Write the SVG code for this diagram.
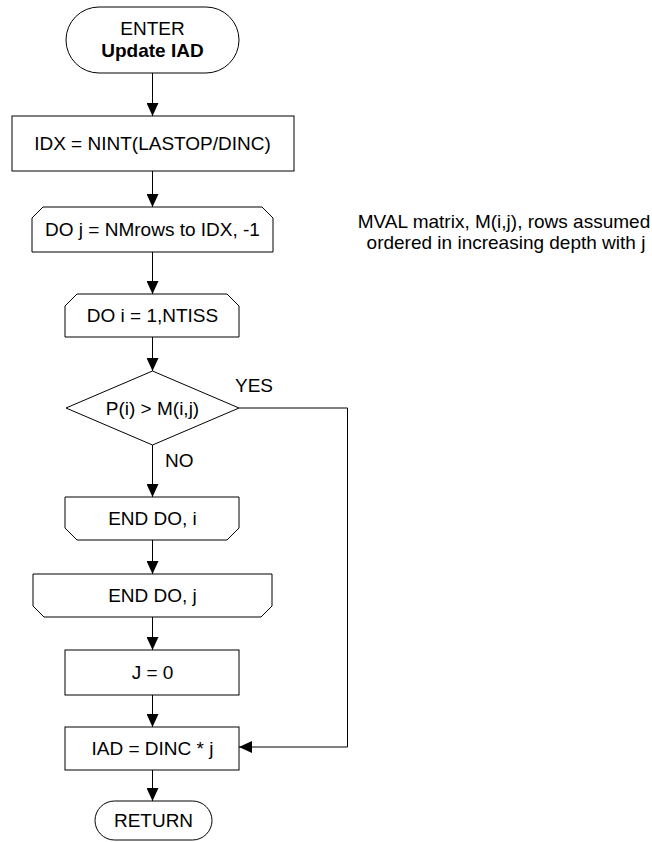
<svg xmlns="http://www.w3.org/2000/svg" width="652" height="842" viewBox="0 0 652 842">
<defs>
<style>
.s{fill:#fff;stroke:#000;stroke-width:1}
.t{font-family:"Liberation Sans",Arial,sans-serif;font-size:19px;fill:#000;text-anchor:middle}
.l{font-family:"Liberation Sans",Arial,sans-serif;font-size:19px;fill:#000}
.c{fill:none;stroke:#000;stroke-width:1}
</style>
<marker id="ah" viewBox="0 0 13 12" refX="13" refY="6" markerWidth="13" markerHeight="12" markerUnits="userSpaceOnUse" orient="auto">
<path d="M0,0 L13,6 L0,12 Z" fill="#000"/>
</marker>
</defs>
<rect width="652" height="842" fill="#fff"/>
<g id="connectors">
<line class="c" x1="152.5" y1="73" x2="152.5" y2="116" marker-end="url(#ah)"/>
<line class="c" x1="152.5" y1="171" x2="152.5" y2="207" marker-end="url(#ah)"/>
<line class="c" x1="152.5" y1="252" x2="152.5" y2="294" marker-end="url(#ah)"/>
<line class="c" x1="152.5" y1="337" x2="152.5" y2="371" marker-end="url(#ah)"/>
<line class="c" x1="152.5" y1="445" x2="152.5" y2="497" marker-end="url(#ah)"/>
<line class="c" x1="152.5" y1="540" x2="152.5" y2="574" marker-end="url(#ah)"/>
<line class="c" x1="152.5" y1="617" x2="152.5" y2="650" marker-end="url(#ah)"/>
<line class="c" x1="152.5" y1="695" x2="152.5" y2="727" marker-end="url(#ah)"/>
<line class="c" x1="152.5" y1="770" x2="152.5" y2="801" marker-end="url(#ah)"/>
<path class="c" d="M239,408 H347.5 V747 H239" marker-end="url(#ah)"/>
<text class="l" x="235" y="392">YES</text>
<text class="l" x="165" y="467">NO</text>
</g>
<g id="enter">
<rect class="s" x="66" y="7" width="173" height="66" rx="33" ry="33"/>
<text class="t" x="152.5" y="35">ENTER</text>
<text class="t" x="152.5" y="57" font-weight="bold">Update IAD</text>
</g>
<g id="idx">
<rect class="s" x="12" y="116" width="282" height="55"/>
<text class="t" x="152.5" y="150">IDX = NINT(LASTOP/DINC)</text>
</g>
<g id="doj">
<path class="s" d="M32,252 L32,218 L43,207 L262,207 L273,218 L273,252 Z"/>
<text class="t" x="152.5" y="236">DO j = NMrows to IDX, -1</text>
</g>
<g id="doi">
<path class="s" d="M65,337 L65,306 L77,294 L227,294 L239,306 L239,337 Z"/>
<text class="t" x="152.5" y="322">DO i = 1,NTISS</text>
</g>
<g id="decision">
<path class="s" d="M66,408 L152.5,371 L239,408 L152.5,445 Z"/>
<text class="t" x="152.5" y="415">P(i) &gt; M(i,j)</text>
</g>
<g id="enddoi">
<path class="s" d="M65,497 L239,497 L239,528 L227,540 L77,540 L65,528 Z"/>
<text class="t" x="152.5" y="525">END DO, i</text>
</g>
<g id="enddoj">
<path class="s" d="M33,574 L272,574 L272,606 L261,617 L44,617 L33,606 Z"/>
<text class="t" x="152.5" y="602">END DO, j</text>
</g>
<g id="j0">
<rect class="s" x="65" y="650" width="174" height="45"/>
<text class="t" x="152.5" y="679">J = 0</text>
</g>
<g id="iad">
<rect class="s" x="65" y="727" width="174" height="43"/>
<text class="t" x="152.5" y="755">IAD = DINC * j</text>
</g>
<g id="return">
<rect class="s" x="95" y="801" width="117" height="39" rx="19.5" ry="19.5"/>
<text class="t" x="153.5" y="827">RETURN</text>
</g>
<g id="note">
<text class="t" x="504" y="227.5">MVAL matrix, M(i,j), rows assumed</text>
<text class="t" x="506" y="249">ordered in increasing depth with j</text>
</g>
</svg>
